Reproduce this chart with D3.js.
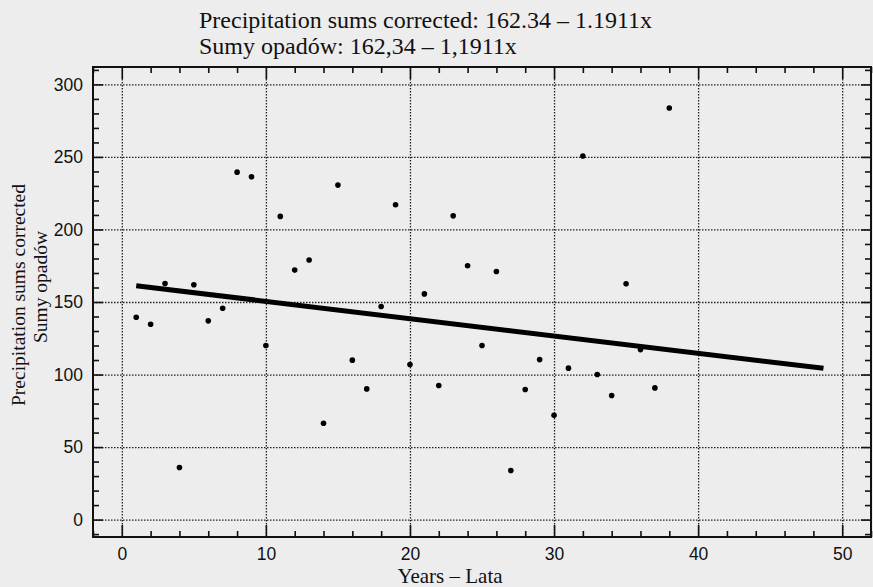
<!DOCTYPE html>
<html>
<head>
<meta charset="utf-8">
<script src="https://cdn.jsdelivr.net/npm/d3@7"></script>
<style>
  body { margin: 0; background: #ededee; }
  svg { display: block; }
</style>
</head>
<body>
<div id="chart"></div>
<script>
// data
const years = [1, 2, 3, 4, 5, 6, 7, 8, 9, 10, 11, 12, 13, 14, 15, 16, 17, 18, 19,
  20, 21, 22, 23, 24, 25, 26, 27, 28, 29, 30, 31, 32, 33, 34, 35, 36, 37, 38];
const precip = [139.5, 134.7, 162.8, 35.9, 161.9, 137, 145.7, 239.5, 236.3, 120,
  209, 172, 179, 66.4, 230.6, 109.9, 90.1, 146.9, 217, 106.9, 155.6, 92.4, 209.4,
  175, 120, 171, 33.8, 89.7, 110.3, 71.9, 104.4, 250.6, 100, 85.5, 162.5, 117.2,
  90.8, 283.7];
const trendX = [1, 48.7];
const trendY = [161.2, 104.3];
const xTicks = [0, 10, 20, 30, 40, 50];
const yTicks = [0, 50, 100, 150, 200, 250, 300];
const titleLines = ["Precipitation sums corrected: 162.34 – 1.1911x", "Sumy opadów: 162,34 – 1,1911x"];
const yTitleLines = ["Precipitation sums corrected", "Sumy opadów"];
const xTitle = "Years – Lata";

const W = 873, H = 587;
const margin = { top: 67, right: 2, bottom: 50, left: 93 };

const svg = d3.select("#chart").append("svg")
  .attr("width", W)
  .attr("height", H);

const x = d3.scaleLinear().domain([-2, 52]).range([margin.left, W - margin.right]);
const y = d3.scaleLinear().domain([-12, 312]).range([H - margin.bottom, margin.top]);

const x0 = margin.left, x1 = W - margin.right;
const y0 = H - margin.bottom, y1 = margin.top;

// dotted grid
svg.append("g")
  .attr("transform", "translate(0," + y1 + ")")
  .call(d3.axisBottom(x).tickValues(xTicks).tickSize(y0 - y1).tickFormat(""))
  .call(g => g.select(".domain").remove())
  .call(g => g.selectAll("line").attr("stroke", "#222").attr("stroke-width", 1.3).attr("stroke-dasharray", "1.5,1.5"));

svg.append("g")
  .attr("transform", "translate(" + x0 + ",0)")
  .call(d3.axisRight(y).tickValues(yTicks).tickSize(x1 - x0).tickFormat(""))
  .call(g => g.select(".domain").remove())
  .call(g => g.selectAll("line").attr("stroke", "#222").attr("stroke-width", 1.3).attr("stroke-dasharray", "1.5,1.5"));

// minor ticks
const xMinor = d3.range(-2, 52.1, 2).filter(v => v % 10 !== 0);
const yMinor = d3.range(-10, 311, 10).filter(v => v % 50 !== 0);

const sans = "'Liberation Sans', Arial, sans-serif";

function tickStyle(g) {
  g.select(".domain").remove();
  g.selectAll("line").attr("stroke", "#111").attr("stroke-width", 1.6);
}

// bottom
svg.append("g").attr("transform", "translate(0," + y0 + ")")
  .call(d3.axisTop(x).tickValues(xMinor).tickSize(6).tickFormat("")).call(tickStyle);
svg.append("g").attr("transform", "translate(0," + y0 + ")")
  .call(d3.axisTop(x).tickValues(xTicks).tickSize(12).tickFormat(d3.format("d")))
  .call(tickStyle)
  .call(g => g.selectAll("text")
    .attr("y", 11)
    .attr("dy", "0.71em")
    .attr("font-family", sans)
    .attr("font-size", 17.5)
    .attr("fill", "#111"));
// top
svg.append("g").attr("transform", "translate(0," + y1 + ")")
  .call(d3.axisBottom(x).tickValues(xMinor).tickSize(6).tickFormat("")).call(tickStyle);
svg.append("g").attr("transform", "translate(0," + y1 + ")")
  .call(d3.axisBottom(x).tickValues(xTicks).tickSize(12).tickFormat("")).call(tickStyle);
// left
svg.append("g").attr("transform", "translate(" + x0 + ",0)")
  .call(d3.axisRight(y).tickValues(yMinor).tickSize(6).tickFormat("")).call(tickStyle);
svg.append("g").attr("transform", "translate(" + x0 + ",0)")
  .call(d3.axisRight(y).tickValues(yTicks).tickSize(10).tickFormat(d3.format("d")))
  .call(tickStyle)
  .call(g => g.selectAll("text")
    .attr("x", -10)
    .attr("text-anchor", "end")
    .attr("font-family", sans)
    .attr("font-size", 17.5)
    .attr("fill", "#111"));
// right
svg.append("g").attr("transform", "translate(" + x1 + ",0)")
  .call(d3.axisLeft(y).tickValues(yMinor).tickSize(6).tickFormat("")).call(tickStyle);
svg.append("g").attr("transform", "translate(" + x1 + ",0)")
  .call(d3.axisLeft(y).tickValues(yTicks).tickSize(10).tickFormat("")).call(tickStyle);

// frame
svg.append("rect")
  .attr("x", x0).attr("y", y1)
  .attr("width", x1 - x0).attr("height", y0 - y1)
  .attr("fill", "none").attr("stroke", "#111").attr("stroke-width", 2);

// trend line
svg.append("line")
  .attr("x1", x(trendX[0])).attr("y1", y(trendY[0]))
  .attr("x2", x(trendX[1])).attr("y2", y(trendY[1]))
  .attr("stroke", "#000").attr("stroke-width", 5);

// points
svg.append("g").selectAll("circle")
  .data(years.map((d, i) => ({ yr: d, v: precip[i] })))
  .enter().append("circle")
  .attr("cx", d => x(d.yr))
  .attr("cy", d => y(d.v))
  .attr("r", 2.8)
  .attr("fill", "#000");

// titles
const serif = "'Liberation Serif', 'Times New Roman', serif";
svg.append("g").selectAll("text")
  .data(titleLines).enter().append("text")
  .attr("x", 199)
  .attr("y", (d, i) => 28 + i * 26)
  .attr("font-family", serif)
  .attr("font-size", 24)
  .attr("fill", "#111")
  .text(d => d);

svg.append("g").selectAll("text")
  .data(yTitleLines).enter().append("text")
  .attr("transform", (d, i) => "translate(" + (25 + i * 22) + "," + (i ? 287 : 295) + ") rotate(-90)")
  .attr("text-anchor", "middle")
  .attr("font-family", serif)
  .attr("font-size", 19.5)
  .attr("fill", "#111")
  .text(d => d);

svg.append("text")
  .attr("x", 450).attr("y", 583)
  .attr("text-anchor", "middle")
  .attr("font-family", serif)
  .attr("font-size", 21)
  .attr("fill", "#111")
  .text(xTitle);
</script>
</body>
</html>
